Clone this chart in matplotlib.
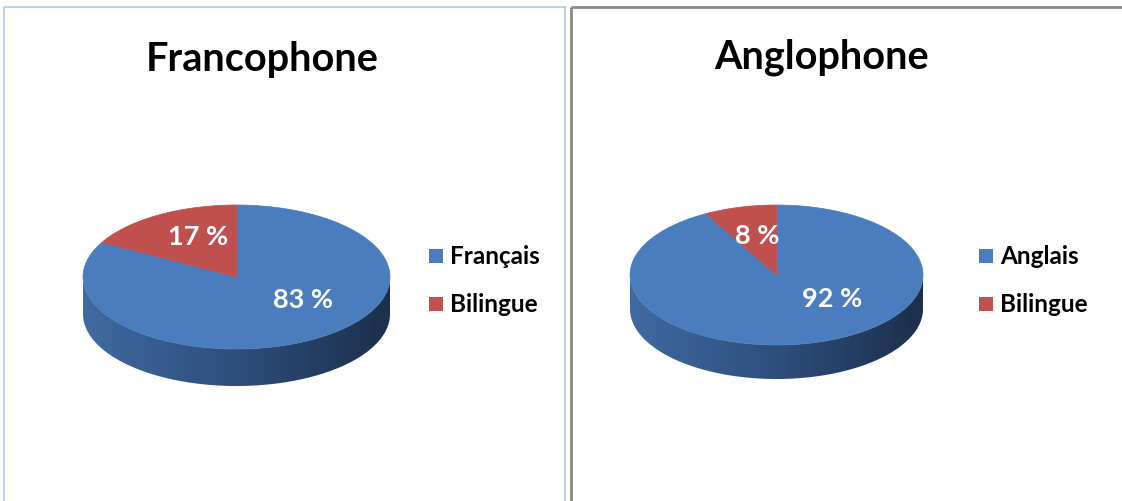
import numpy as np
import matplotlib
matplotlib.use("Agg")
import matplotlib.pyplot as plt
from matplotlib.patches import Polygon, Rectangle
from matplotlib.colors import LinearSegmentedColormap

# Data
titles = ["Francophone", "Anglophone"]
labels_fr = ["Français", "Bilingue"]
values_fr = [83, 17]
labels_en = ["Anglais", "Bilingue"]
values_en = [92, 8]

blue = "#4A7CBE"
red = "#C0504D"
side_cmap = LinearSegmentedColormap.from_list("side", ["#3F6AA2", "#2E4E7C", "#1C2F4B"])

plt.rcParams['font.family'] = ['Lato', 'DejaVu Sans']

fig = plt.figure(figsize=(11.22, 5.02), dpi=100)
ax = fig.add_axes([0, 0, 1, 1])
ax.set_xlim(0, 1122)
ax.set_ylim(502, 0)
ax.axis('off')

# panel frames
ax.add_patch(Rectangle((4, 8), 561, 500, fill=False, ec="#B2C7E6", lw=1.2))
ax.add_patch(Rectangle((571, 8), 560, 500, fill=False, ec="#8A8A8A", lw=2))

# layout per panel: centre, radii, depth, title pos, legend x, label offsets (in rx, ry units)
layout = [
    dict(cx=236.5, cy=278, rx=153.5, ry=72, depth=37, tx=262, ty=60, lx=436,
         lab=[(0.435, 0.31), (-0.25, -0.57)]),
    dict(cx=776.5, cy=276, rx=146.5, ry=70, depth=34, tx=822, ty=57, lx=986,
         lab=[(0.38, 0.33), (-0.13, -0.57)]),
]


def draw_pie(L, values, names, title):
    cx, cy, rx, ry, d = L['cx'], L['cy'], L['rx'], L['ry'], L['depth']
    colors = [blue, red]
    # side wall (front half of ellipse), filled with horizontal gradient
    t = np.linspace(np.pi, 2 * np.pi, 200)
    xs = cx + rx * np.cos(t)
    ys = cy - ry * np.sin(t)
    pts = list(zip(xs, ys)) + list(zip(xs[::-1], ys[::-1] + d))
    wall = Polygon(pts, closed=True, fc="none", ec="none")
    ax.add_patch(wall)
    grad = np.linspace(0, 1, 256).reshape(1, -1)
    im = ax.imshow(grad, cmap=side_cmap, aspect='auto',
                   extent=(cx - rx, cx + rx, cy + ry + d, cy - 2))
    im.set_clip_path(wall)
    # top face, slices clockwise from 12 o'clock
    total = sum(values)
    start = 90.0
    for k, v in enumerate(values):
        sweep = 360.0 * v / total
        a = np.radians(np.linspace(start, start - sweep, 150))
        p = [(cx, cy)] + [(cx + rx * np.cos(q), cy - ry * np.sin(q)) for q in a]
        ax.add_patch(Polygon(p, closed=True, fc=colors[k], ec=colors[k], lw=0.5))
        dx, dy = L['lab'][k]
        ax.text(cx + dx * rx, cy + dy * ry, f"{v} %", color="white", fontsize=19.5,
                fontweight="bold", ha="center", va="center")
        start -= sweep
    ax.text(L['tx'], L['ty'], title, fontsize=28.5, fontweight="bold", ha="center", va="center")
    for k, n in enumerate(names):
        yy = 257 + 48 * k
        ax.add_patch(Rectangle((L['lx'] - 7, yy - 7), 14, 14, fc=colors[k], ec="none"))
        ax.text(L['lx'] + 14, yy, n, fontsize=17.5, fontweight="bold", ha="left", va="center")


draw_pie(layout[0], values_fr, labels_fr, titles[0])
draw_pie(layout[1], values_en, labels_en, titles[1])

fig.savefig("out.png", dpi=100)
